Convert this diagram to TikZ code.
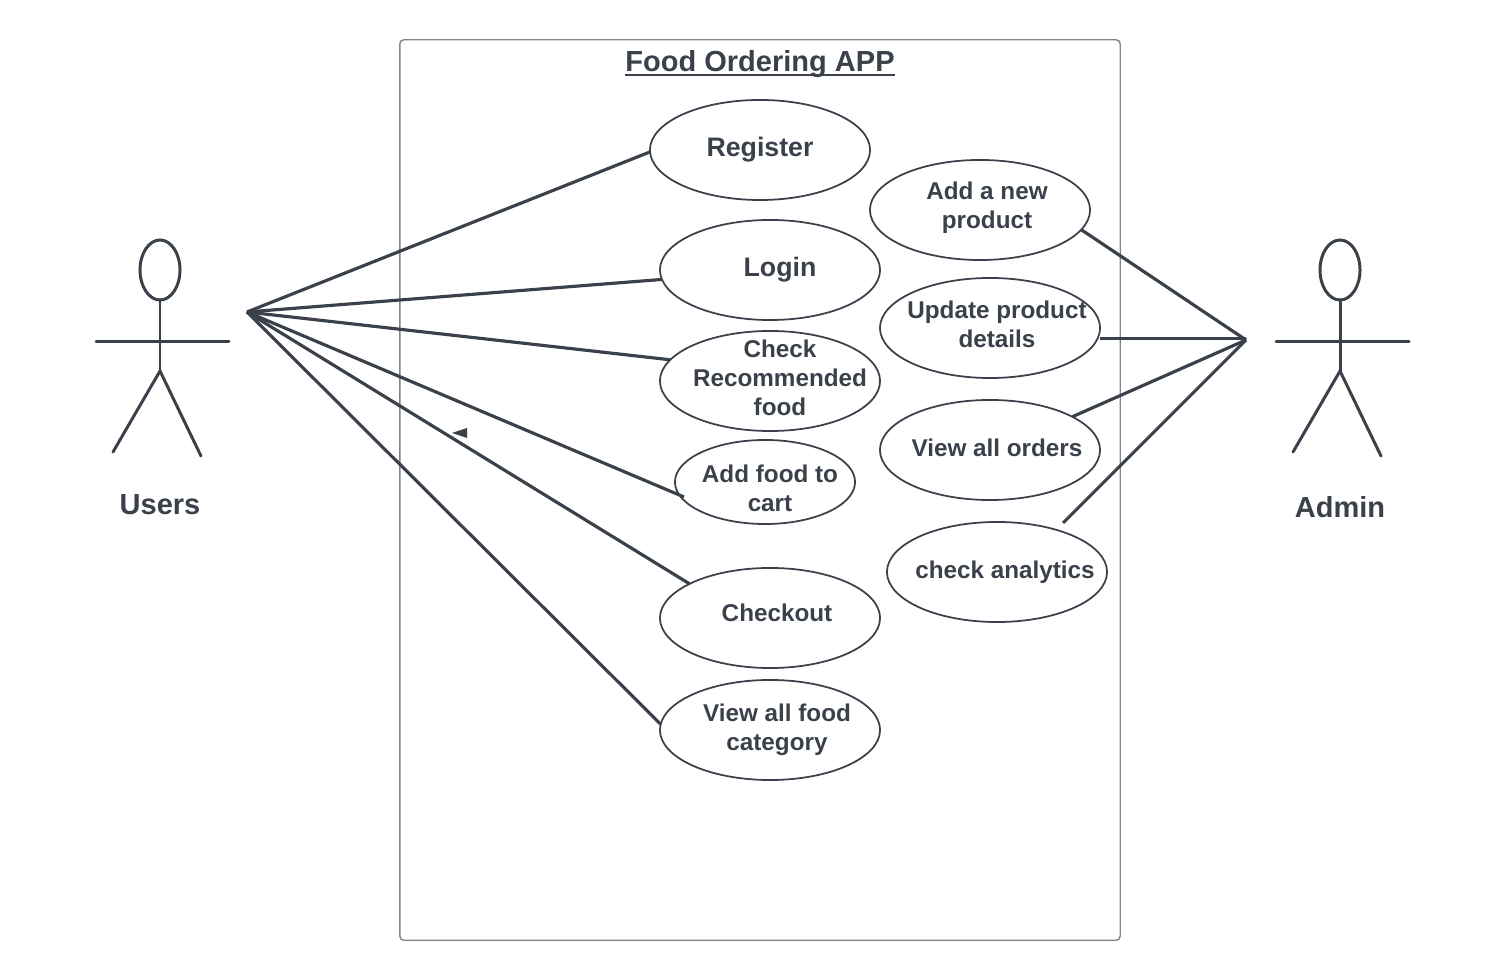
\documentclass[tikz,border=0pt]{standalone}
\usepackage{fontspec}
\setmainfont{Liberation Sans}
\usepackage{xcolor}
\usetikzlibrary{shapes.geometric}
\definecolor{inkdark}{HTML}{3A414A}
\definecolor{framegray}{HTML}{7F848C}

\begin{document}
\begin{tikzpicture}[
    x=0.01cm,
    y=-0.01cm,
    usecase/.style={
        ellipse,
        draw=inkdark,
        line width=0.5pt,
        inner sep=0pt,
        outer sep=0pt,
        minimum width=2.2cm,
        minimum height=1cm
    },
    usetext/.style={
        text=inkdark,
        inner sep=0pt,
        align=center,
        font=\fontsize{6.9}{8.3}\selectfont\bfseries
    },
    midtext/.style={
        usetext,
        font=\fontsize{7.6}{9}\selectfont\bfseries
    },
    bigtext/.style={
        usetext,
        font=\fontsize{8.25}{9.9}\selectfont\bfseries
    },
    link/.style={draw=inkdark,line width=0.9pt},
    limb/.style={draw=inkdark,line width=0.85pt,line cap=round}
]
    \useasboundingbox (0,0) rectangle (1500,980);

    % System frame
    \node[draw=framegray,line width=0.4pt,rounded corners=1.2pt,minimum width=7.2cm,minimum height=9cm,inner sep=0pt,outer sep=0pt] (system) at (760,490) {};
    \node[bigtext] (title) at (760,64) {Food Ordering APP};
    \draw[draw=inkdark,line width=0.65pt] (title.west |- 0,75) -- (title.east |- 0,75);

    % Use cases
    \node[usecase] (register) at (760,150) {};
    \node[usecase] (login) at (770,270) {};
    \node[usecase] (recommended) at (770,381) {};
    \node[usecase,minimum width=1.8cm,minimum height=0.84cm] (addcart) at (765,482) {};
    \node[usecase] (checkout) at (770,618) {};
    \node[usecase] (category) at (770,730) {};
    \node[usecase] (addproduct) at (980,210) {};
    \node[usecase] (update) at (990,328) {};
    \node[usecase] (orders) at (990,450) {};
    \node[usecase] (analytics) at (997,572) {};

    % Labels
    \node[midtext] (registertxt) at (760,150) {Register};
    \node[midtext] (logintxt) at (780,270) {Login};
    \node[usetext] (recommendedtxt) at (780,378) {Check\\Recommended\\food};
    \node[usetext] (addcarttxt) at (770,488) {Add food to\\cart};
    \node[usetext] (checkouttxt) at (777,613) {Checkout};
    \node[usetext] (categorytxt) at (777,730) {View all food\\category};
    \node[usetext] (addproducttxt) at (987,208) {Add a new\\product};
    \node[usetext] (updatetxt) at (997,324) {Update product\\details};
    \node[usetext] (orderstxt) at (997,448) {View all orders};
    \node[usetext] (analyticstxt) at (1005,572) {check analytics};

    % Actors
    \foreach \ax/\aname/\ay in {160/Users/505,1340/Admin/507} {
        \node[ellipse,draw=inkdark,line width=0.85pt,inner sep=0pt,outer sep=0pt,minimum width=0.4cm,minimum height=0.6cm] (head\ax) at (\ax,270) {};
        \coordinate (hip\ax) at (\ax,371);
        \draw[limb] (head\ax.south) -- (hip\ax);
        \draw[limb] (\ax-64,341.5) -- (\ax+69,341.5);
        \draw[limb] (\ax-47,452) -- (hip\ax) -- (\ax+41,456);
        \node[bigtext] (label\ax) at (\ax,\ay) {\aname};
    }

    % Hubs and free line ends
    \coordinate (usershub) at (247,312);
    \coordinate (adminhub) at (1246,340);
    \coordinate (addcartend) at (684,497);
    \coordinate (updateend) at (1100,338.5);
    \coordinate (analyticsend) at (1063,523);

    % Connectors
    \draw[link] (usershub) -- (register.181);
    \draw[link] (usershub) -- (login.185);
    \draw[link] (usershub) -- (recommended.168);
    \draw[link] (usershub) -- (addcartend);
    \draw[link] (usershub) -- (checkout.157);
    \draw[link] (usershub) -- (category.177);
    \draw[link] (adminhub) -- (addproduct.-11);
    \draw[link] (updateend) -- (updateend -| adminhub);
    \draw[link] (adminhub) -- (orders.22);
    \draw[link] (adminhub) -- (analyticsend);

    % Stray arrowhead
    \fill[inkdark] (452,433) -- (467,428) -- (467,438) -- cycle;
\end{tikzpicture}
\end{document}
